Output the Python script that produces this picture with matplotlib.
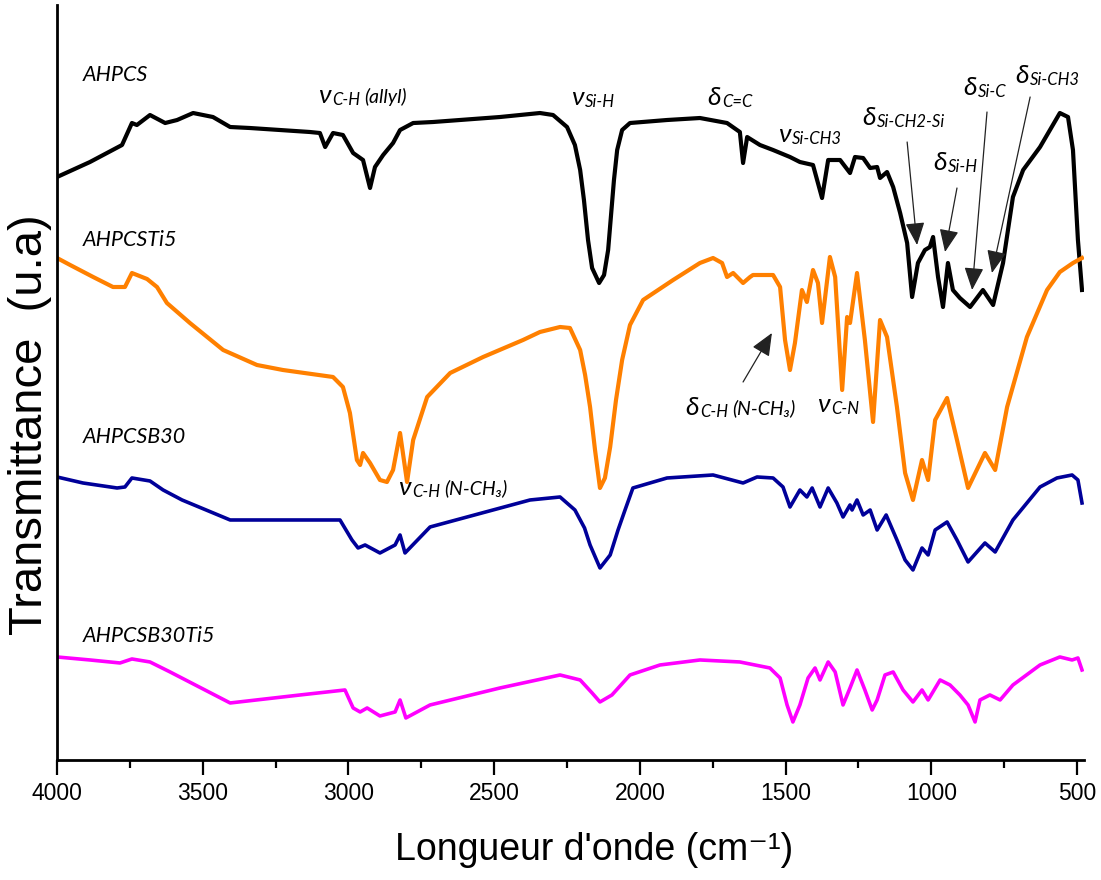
import numpy as np
import matplotlib
matplotlib.use('Agg')
from matplotlib import pyplot as plt
from matplotlib.ticker import MultipleLocator

# FTIR spectra, wavenumber (cm-1) and transmittance (arbitrary units, curves stacked)
ahpcs_wn = [4000, 3887, 3777, 3743, 3726, 3681, 3629, 3588, 3533, 3465, 3406, 3338, 3132, 3098, 3080,
            3053, 3019, 2984, 2950, 2926, 2909, 2881, 2847, 2823, 2778, 2710, 2480, 2343, 2298, 2250,
            2223, 2205, 2192, 2178, 2164, 2140, 2123, 2109, 2099, 2089, 2078, 2061, 2034, 1907, 1794,
            1701, 1657, 1646, 1632, 1588,
            1543, 1485, 1451, 1406, 1375, 1354, 1313, 1279, 1262, 1234, 1210, 1186, 1176, 1152, 1131,
            1107, 1083, 1066, 1046, 1022, 1005, 994, 977, 960, 943, 926, 902, 867, 823, 788,
            754, 720, 685, 627, 559, 531, 514, 497, 483]
ahpcs_t = [5.83, 5.98, 6.15, 6.37, 6.35, 6.45, 6.37, 6.40, 6.47, 6.43, 6.33, 6.32, 6.28, 6.27, 6.13,
           6.27, 6.25, 6.07, 6.00, 5.72, 5.93, 6.05, 6.17, 6.30, 6.37, 6.38, 6.43, 6.47, 6.45, 6.33,
           6.15, 5.90, 5.60, 5.20, 4.92, 4.77, 4.85, 5.10, 5.45, 5.80, 6.10, 6.30, 6.37, 6.40, 6.42,
           6.37, 6.28, 5.97, 6.23, 6.15,
           6.10, 6.03, 5.98, 5.95, 5.62, 6.00, 6.00, 5.87, 6.03, 6.02, 5.92, 5.93, 5.82, 5.88, 5.73,
           5.47, 5.17, 4.63, 4.97, 5.10, 5.13, 5.23, 4.83, 4.53, 4.97, 4.70, 4.62, 4.53, 4.70, 4.55,
           4.97, 5.63, 5.90, 6.13, 6.47, 6.43, 6.10, 5.20, 4.70]

ti5_wn = [4000, 3955, 3876, 3808, 3767, 3743, 3691, 3657, 3623, 3544, 3430, 3314, 3225, 3053, 3019,
          2995, 2971, 2960, 2950, 2926, 2892, 2868, 2847, 2823, 2799, 2778, 2730, 2651, 2538, 2401,
          2343, 2274, 2240, 2205, 2188, 2171, 2154, 2137, 2120, 2102, 2082, 2061, 2034, 1989, 1886,
          1794, 1749, 1718, 1701, 1680,
          1646, 1622, 1612, 1543, 1519, 1502, 1485, 1468, 1444, 1427, 1406, 1389, 1375, 1348, 1330,
          1306, 1289, 1279, 1255, 1228, 1200, 1176, 1152, 1118, 1090, 1063, 1032, 1011, 987, 946,
          912, 874, 816, 781, 740, 672, 603, 559, 514, 483]
ti5_t = [5.02, 4.95, 4.83, 4.73, 4.73, 4.87, 4.81, 4.73, 4.57, 4.37, 4.10, 3.95, 3.90, 3.83, 3.73,
         3.47, 3.00, 2.95, 3.07, 2.97, 2.80, 2.78, 2.90, 3.27, 2.78, 3.20, 3.63, 3.87, 4.03, 4.20,
         4.28, 4.33, 4.32, 4.10, 3.85, 3.53, 3.10, 2.72, 2.82, 3.13, 3.60, 4.00, 4.35, 4.60, 4.80,
         4.97, 5.02, 4.97, 4.83, 4.87,
         4.77, 4.83, 4.85, 4.85, 4.73, 4.20, 3.90, 4.17, 4.70, 4.58, 4.90, 4.77, 4.37, 5.03, 4.83,
         3.70, 4.43, 4.37, 4.87, 4.20, 3.38, 4.40, 4.23, 3.53, 2.87, 2.60, 3.00, 2.80, 3.40, 3.62,
         3.20, 2.72, 3.07, 2.90, 3.53, 4.23, 4.70, 4.88, 4.97, 5.02]

b30_wn = [4000, 3911, 3794, 3767, 3743, 3681, 3636, 3571, 3406, 3029, 2988, 2967, 2943, 2892, 2840,
          2823, 2806, 2720, 2377, 2274, 2223, 2190, 2171, 2137, 2102, 2075, 2051, 2024, 1907, 1749,
          1646, 1598,
          1543, 1509, 1485, 1451, 1427, 1409, 1382, 1354, 1324, 1303, 1279, 1272, 1255, 1234, 1210,
          1186, 1155, 1118, 1090, 1063, 1032, 1011, 987, 946, 912, 874, 816, 781, 720, 627,
          569, 517, 497, 483]
b30_t = [2.83, 2.77, 2.72, 2.73, 2.82, 2.79, 2.70, 2.60, 2.40, 2.40, 2.20, 2.12, 2.15, 2.07, 2.15,
         2.25, 2.07, 2.33, 2.60, 2.63, 2.50, 2.32, 2.15, 1.92, 2.05, 2.30, 2.50, 2.72, 2.82, 2.85,
         2.77, 2.83,
         2.82, 2.73, 2.53, 2.70, 2.63, 2.72, 2.53, 2.72, 2.57, 2.43, 2.55, 2.50, 2.60, 2.45, 2.50,
         2.30, 2.45, 2.20, 2.00, 1.90, 2.12, 2.05, 2.30, 2.38, 2.20, 1.98, 2.17, 2.08, 2.40, 2.73,
         2.82, 2.85, 2.80, 2.57]

b30ti5_wn = [4000, 3887, 3784, 3743, 3681, 3612, 3406, 3166, 3012, 2984, 2960, 2936, 2892, 2840, 2823,
             2803, 2720, 2480, 2274, 2205, 2164, 2137, 2096, 2034, 1931, 1794, 1657, 1554, 1519, 1495,
             1475, 1451, 1423, 1399, 1382, 1354, 1330, 1303, 1279, 1255, 1228, 1203, 1186, 1159, 1131,
             1097, 1063, 1032, 1011, 970, 936, 902, 874, 850, 833, 799, 764, 720, 627, 559,
             517, 497, 483]
b30ti5_t = [1.03, 1.00, 0.97, 1.01, 0.98, 0.88, 0.57, 0.65, 0.70, 0.52, 0.48, 0.52, 0.44, 0.48, 0.60,
            0.42, 0.55, 0.72, 0.85, 0.80, 0.67, 0.58, 0.65, 0.85, 0.95, 1.00, 0.98, 0.92, 0.82, 0.55,
            0.38, 0.55, 0.82, 0.92, 0.80, 0.98, 0.88, 0.55, 0.72, 0.90, 0.70, 0.50, 0.60, 0.85, 0.88,
            0.70, 0.58, 0.70, 0.60, 0.80, 0.75, 0.65, 0.55, 0.38, 0.60, 0.65, 0.60, 0.75, 0.95, 1.03,
            1.00, 1.02, 0.90]

series = [
    ('AHPCS',       ahpcs_wn,  ahpcs_t,  'black',   3.0),
    ('AHPCSTi5',    ti5_wn,    ti5_t,    '#FF8000', 3.0),
    ('AHPCSB30',    b30_wn,    b30_t,    '#000099', 2.6),
    ('AHPCSB30Ti5', b30ti5_wn, b30ti5_t, '#FF00FF', 2.6),
]
label_y = [6.85, 5.20, 3.23, 1.24]

axis_font = ['Liberation Sans', 'DejaVu Sans']
note_font = ['Lato', 'Noto Sans', 'DejaVu Sans']

fig = plt.figure(figsize=(11.01, 8.8), dpi=100)
ax = fig.add_axes([0.0518, 0.1364, 0.9328, 0.8579])

for (name, wn, t, col, lw), ly in zip(series, label_y):
    ax.plot(wn, t, color=col, lw=lw, solid_joinstyle='round')
    ax.text(3911, ly, name, family=note_font, style='italic', fontsize=15.5, va='center', ha='left')

ax.set_xlim(4000, 476)
ax.set_ylim(0, 7.55)
ax.xaxis.set_major_locator(MultipleLocator(500))
ax.xaxis.set_minor_locator(MultipleLocator(250))
ax.set_yticks([])
for s in ['top', 'right']:
    ax.spines[s].set_visible(False)
for s in ['left', 'bottom']:
    ax.spines[s].set_linewidth(2)
ax.tick_params(axis='x', which='major', length=11, width=1.6, direction='out', pad=5)
ax.tick_params(axis='x', which='minor', length=6, width=1.6, direction='out')
for lab in ax.get_xticklabels():
    lab.set_family(axis_font)
    lab.set_fontsize(16.5)

fig.text(594 / 1101, 1 - 850 / 880, "Longueur d'onde (cm⁻¹)", family=axis_font,
         fontsize=27, ha='center', va='center')
fig.text(30 / 1101, 1 - 425 / 880, 'Transmittance  (u.a)', family=axis_font,
         fontsize=34, ha='center', va='center', rotation=90)


def band(x, y, sym, sub, extra=None):
    t = ax.text(x, y, sym, family=note_font, style='italic', fontsize=19, va='baseline', ha='left')
    s = ax.annotate(sub, xy=(1, 0), xycoords=t, xytext=(1, -1), textcoords='offset points',
                    family=note_font, style='italic', fontsize=12, va='bottom', ha='left')
    if extra:
        ax.annotate(extra, xy=(1, 0), xycoords=s, xytext=(3, 2), textcoords='offset points',
                    family=note_font, style='italic', fontsize=14, va='bottom', ha='left')


def arrow(x0, y0, x1, y1):
    ax.annotate('', xy=(x1, y1), xytext=(x0, y0),
                arrowprops=dict(arrowstyle='-|>,head_length=0.7,head_width=0.3', lw=0.9,
                                color='#222222', mutation_scale=20, shrinkA=0, shrinkB=0))


band(3104, 6.57, 'ν', 'C-H', '(allyl)')
band(2236, 6.55, 'ν', 'Si-H')
band(1770, 6.55, 'δ', 'C=C')
band(1526, 6.18, 'ν', 'Si-CH3')
band(1238, 6.35, 'δ', 'Si-CH2-Si')
band(994, 5.90, 'δ', 'Si-H')
band(891, 6.65, 'δ', 'Si-C')
band(713, 6.77, 'δ', 'Si-CH3')
band(1845, 3.45, 'δ', 'C-H', '(N-CH₃)')
band(1392, 3.48, 'ν', 'C-N')
band(2830, 2.65, 'ν', 'C-H', '(N-CH₃)')

arrow(1083, 6.18, 1049, 5.15)
arrow(912, 5.72, 953, 5.08)
arrow(809, 6.48, 860, 4.70)
arrow(661, 6.63, 792, 4.87)
arrow(1646, 3.78, 1547, 4.27)

fig.savefig('out.png', dpi=100)
